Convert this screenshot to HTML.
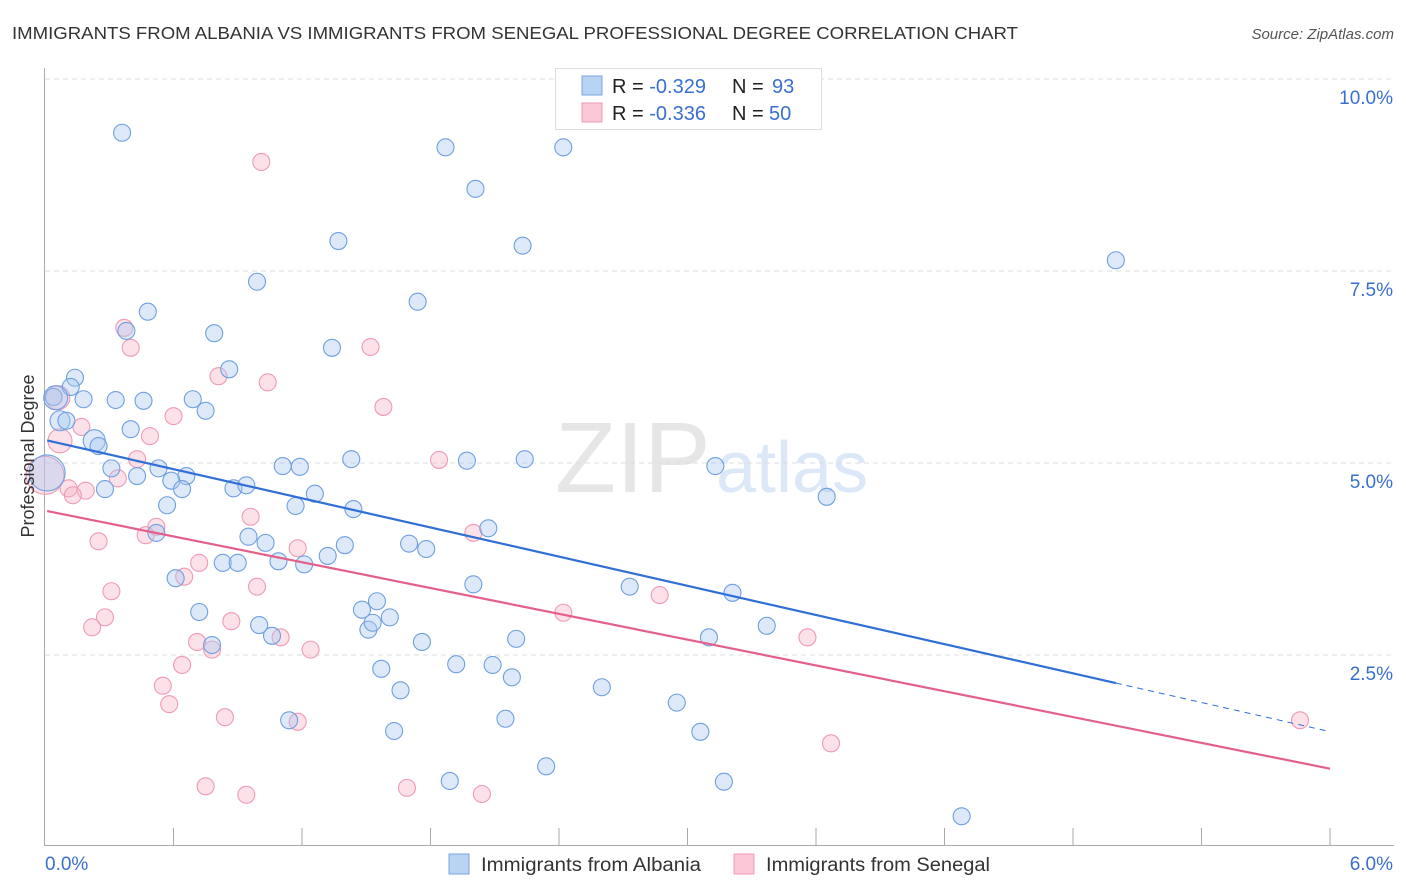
<!DOCTYPE html>
<html><head><meta charset="utf-8"><style>
body{margin:0;background:#fff;font-family:"Liberation Sans",sans-serif;}
#wrap{position:relative;width:1406px;height:892px;overflow:hidden;}
svg text{font-family:"Liberation Sans",sans-serif;}
</style></head><body>
<div id="wrap">
<svg id="chart" width="1406" height="892">
<text x="12" y="39" font-size="17.5" fill="#333" textLength="1006" lengthAdjust="spacingAndGlyphs">IMMIGRANTS FROM ALBANIA VS IMMIGRANTS FROM SENEGAL PROFESSIONAL DEGREE CORRELATION CHART</text>
<text x="1394" y="39" font-size="15" fill="#555" font-style="italic" text-anchor="end">Source: ZipAtlas.com</text>
<text x="555" y="492" font-size="100" fill="#e6e6e6" font-family="Liberation Serif, serif">ZIP</text>
<text x="716" y="492" font-size="72" fill="#dce8f8">atlas</text>
<g id="grid"></g>
<g id="axes"></g>
<g id="pts"></g>
<g id="trend"></g>
<text transform="translate(34,456) rotate(-90)" font-size="18" fill="#333" text-anchor="middle">Professional Degree</text>
<g>
<rect x="555.5" y="68.5" width="266" height="61" fill="#fff" stroke="#ddd"/>
<rect x="582" y="76" width="20" height="19" fill="#b8d3f3" stroke="#7aa6e0"/>
<rect x="582" y="103" width="20" height="19" fill="#fcc8d7" stroke="#ef9ab5"/>
<text x="612" y="93" font-size="20" fill="#222">R = <tspan fill="#3a6fd0">-0.329</tspan><tspan x="732">N = </tspan><tspan fill="#3a6fd0" x="772">93</tspan></text>
<text x="612" y="120" font-size="20" fill="#222">R = <tspan fill="#3a6fd0">-0.336</tspan><tspan x="732">N = </tspan><tspan fill="#3a6fd0" x="769">50</tspan></text>
</g>
<g>
<rect x="449" y="854" width="20" height="20" fill="#b8d3f3" stroke="#7aa6e0"/>
<text x="481" y="871" font-size="19" fill="#333" textLength="220" lengthAdjust="spacingAndGlyphs">Immigrants from Albania</text>
<rect x="734" y="854" width="20" height="20" fill="#fcc8d7" stroke="#ef9ab5"/>
<text x="766" y="871" font-size="19" fill="#333" textLength="224" lengthAdjust="spacingAndGlyphs">Immigrants from Senegal</text>
</g>
</svg>
</div>
<script>
const blueX=[0.36,1.87,2.42,2.01,1.37,2.23,5.00,0.99,1.74,0.48,0.79,0.38,1.34,0.86,0.14,0.12,0.04,0.18,0.33,0.46,0.69,0.75,0.07,0.10,0.40,0.23,0.25,0.53,0.31,1.43,1.97,2.24,3.13,1.11,1.19,0.66,0.43,0.59,0.64,0.28,0.88,0.94,1.26,1.17,1.44,3.65,0.57,2.07,0.52,0.95,1.03,1.40,1.70,1.78,1.32,1.09,0.83,0.90,1.21,2.73,2.00,3.21,0.61,1.55,1.48,1.61,0.72,1.51,1.53,3.37,1.00,1.06,3.10,2.20,1.76,0.78,1.92,2.09,1.57,2.18,1.66,2.60,2.95,1.14,2.15,1.63,3.06,2.34,1.89,3.17,4.28,0.01,0.05];
const blueY=[9.30,9.11,9.11,8.57,7.89,7.83,7.64,7.36,7.10,6.97,6.69,6.72,6.50,6.22,6.11,5.99,5.86,5.83,5.82,5.81,5.83,5.68,5.55,5.55,5.44,5.29,5.22,4.93,4.93,5.05,5.03,5.05,4.96,4.96,4.95,4.83,4.83,4.77,4.66,4.66,4.67,4.71,4.60,4.44,4.40,4.56,4.45,4.15,4.09,4.04,3.96,3.93,3.95,3.88,3.79,3.72,3.70,3.70,3.68,3.39,3.42,3.31,3.50,3.20,3.09,2.99,3.06,2.83,2.92,2.88,2.89,2.75,2.73,2.71,2.67,2.63,2.38,2.37,2.32,2.21,2.04,2.08,1.88,1.65,1.67,1.51,1.50,1.05,0.86,0.85,0.40,4.87,5.85];
const pinkX=[1.01,0.37,0.40,1.52,0.81,1.04,1.58,0.06,0.17,0.60,0.49,0.07,0.43,1.84,0.00,0.19,0.11,0.13,0.52,0.47,0.96,2.00,0.25,1.18,0.72,0.65,0.31,2.42,2.87,0.28,0.87,0.22,0.71,0.99,1.10,0.78,1.24,3.56,0.64,0.55,0.58,0.84,1.18,3.67,5.86,0.75,0.94,1.69,2.04,0.34];
const pinkY=[8.92,6.76,6.50,6.51,6.13,6.05,5.73,5.85,5.47,5.61,5.35,5.29,5.05,5.04,4.84,4.64,4.67,4.58,4.17,4.06,4.30,4.09,3.98,3.89,3.70,3.52,3.33,3.05,3.28,2.99,2.94,2.86,2.67,3.39,2.73,2.57,2.57,2.73,2.37,2.10,1.86,1.69,1.63,1.35,1.65,0.79,0.68,0.77,0.69,4.80];
const yTicks=[2.5,5.0,7.5,10.0];
const yTickLabels=["2.5%","5.0%","7.5%","10.0%"];
const xTicks=[0.6,1.2,1.8,2.4,3.0,3.6,4.2,4.8,5.4,6.0];
const xEndLabels=["0.0%","6.0%"];
const blueTrend=[5.30,-0.633]; // intercept, slope
const pinkTrend=[4.38,-0.560];

const X0=45,X1=1330,XMAX=6,Y0=847,YPX=76.8;
function sx(v){return X0+(X1-X0)*v/XMAX;}
function sy(v){return Y0-v*YPX;}
const NS="http://www.w3.org/2000/svg";
function mk(tag,attrs,parent){const e=document.createElementNS(NS,tag);for(const k in attrs)e.setAttribute(k,attrs[k]);parent.appendChild(e);return e;}
const grid=document.getElementById('grid'),axes=document.getElementById('axes'),pts=document.getElementById('pts'),trend=document.getElementById('trend');
yTicks.forEach((t,i)=>{
 const l=mk('line',{x1:45,x2:1394,y1:sy(t),y2:sy(t),stroke:'#ddd','stroke-dasharray':'5,4'},grid);
 
 
 const tx=mk('text',{x:1393,y:sy(t)+25,'font-size':19,fill:'#3a6fd0','text-anchor':'end'},axes);
 tx.textContent=yTickLabels[i];
 
 
});
const tl=mk('line',{x1:45,x2:1394,y1:79,y2:79,stroke:'#ddd','stroke-dasharray':'5,4'},grid);


const ya=mk('line',{x1:44.5,x2:44.5,y1:68,y2:846,stroke:'#aaa'},axes);


const xa=mk('line',{x1:44,x2:1394,y1:845.5,y2:845.5,stroke:'#aaa'},axes);


xTicks.forEach(t=>{
 const l=mk('line',{x1:sx(t),x2:sx(t),y1:828,y2:845,stroke:'#aaa'},axes);
 
 
});
const xl0=mk('text',{x:45,y:870,'font-size':19,fill:'#3a6fd0'},axes);xl0.textContent=xEndLabels[0];


const xl1=mk('text',{x:1393,y:870,'font-size':19,fill:'#3a6fd0','text-anchor':'end'},axes);xl1.textContent=xEndLabels[1];



const blueBig={91:18,92:12,25:11,22:10};
const pinkBig={14:19,7:12,11:12};
pinkX.forEach((x,i)=>{
 const c=mk('circle',{cx:sx(x),cy:sy(pinkY[i]),r:pinkBig[i]||8.5,fill:'rgba(248,180,200,0.4)',stroke:'#ef9ab5','stroke-width':1.1},pts);
 
 
});
blueX.forEach((x,i)=>{
 const c=mk('circle',{cx:sx(x),cy:sy(blueY[i]),r:blueBig[i]||8.5,fill:'rgba(170,200,240,0.4)',stroke:'#6f9fe0','stroke-width':1.1},pts);
 
 
});
function tline(p,xa,xb,col,dash,name){
 const l=mk('line',{x1:sx(xa),y1:sy(p[0]+p[1]*xa),x2:sx(xb),y2:sy(p[0]+p[1]*xb),stroke:col,'stroke-width':dash?1:2.2},trend);
 if(dash)l.setAttribute('stroke-dasharray','6,5');
 
 
}
tline(blueTrend,0.01,5.0,'#2f6fd6',false,'albania-trend-line');
tline(blueTrend,5.0,6.0,'#2f6fd6',true,'albania-trend-extension');
tline(pinkTrend,0.01,6.0,'#e3608a',false,'senegal-trend-line');
</script>
</body></html>
